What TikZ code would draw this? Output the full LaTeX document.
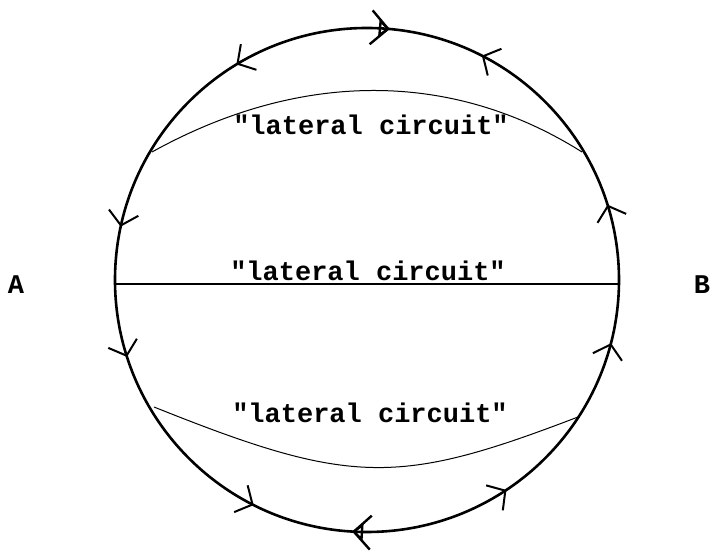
\documentclass[tikz,border=0pt]{standalone}
\usepackage{fontspec}
\setmonofont{Liberation Mono}
\usetikzlibrary{arrows.meta,decorations.markings}
\begin{document}
\begin{tikzpicture}[x=1pt,y=1pt,
  lbl/.style={font=\ttfamily\bfseries\fontsize{27}{29}\selectfont, inner sep=0pt, anchor=base},
  endlbl/.style={font=\ttfamily\bfseries\fontsize{27}{29}\selectfont, inner sep=0pt},
  ring/.style={line width=2.6pt},
  lateral/.style={line width=1pt},
  mid/.style={line width=1.5pt},
  ccw/.style={postaction={decorate,decoration={markings,mark=at position #1 with {\arrow{Straight Barb[length=13pt,width=30pt,line width=2pt]}}}}},
  cw/.style={postaction={decorate,decoration={markings,mark=at position #1 with {\arrowreversed{Straight Barb[length=17pt,width=34pt,line width=2.4pt]}\arrowreversed{Triangle[open,length=11pt,width=19pt,line width=2.4pt]}}}}}
]
\useasboundingbox (0,0) rectangle (713,553);
\coordinate (C) at (367,273);
\draw[ring,
  ccw=0.0483, ccw=0.1747, ccw=0.3367, ccw=0.4661, ccw=0.5494,
  ccw=0.6758, ccw=0.8433, ccw=0.9597,
  cw=0.2356, cw=0.7406] (C) circle (252);
% lateral circuits
\coordinate (UL) at (152,401);
\coordinate (UR) at (582,401);
\coordinate (ML) at (115,269);
\coordinate (MR) at (619,269);
\coordinate (LL) at (154,146);
\coordinate (LR) at (578,136);
\draw[lateral] (UL) .. controls (300,483) and (452,483) .. (UR);
\draw[mid] (ML) -- (MR);
\draw[lateral] (LL) .. controls (351,67) and (398,67) .. (LR);
\node[lbl] (t1) at (371,418) {"lateral circuit"};
\node[lbl] (t2) at (368,272) {"lateral circuit"};
\node[lbl] (t3) at (370,130) {"lateral circuit"};
\node[endlbl] (A) at (16,268) {A};
\node[endlbl] (B) at (702,268) {B};
\end{tikzpicture}
\end{document}
